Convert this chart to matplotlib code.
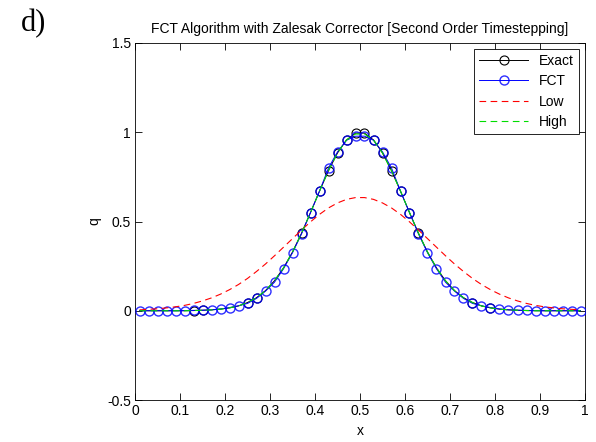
import numpy as np
import matplotlib
matplotlib.use("Agg")
import matplotlib.pyplot as plt

plt.rcParams['font.family'] = ['Liberation Sans', 'DejaVu Sans']

# cell centres, dx = 0.02
x = np.arange(0.01, 1.0, 0.02)

exact = [0.0, 0.0, 0.0, 0.0, 0.0, 0.0, 0.001, 0.003, 0.005, 0.009,
         0.016, 0.027, 0.046, 0.073, 0.113, 0.168, 0.240, 0.329, 0.434, 0.550,
         0.670, 0.785, 0.884, 0.957, 0.995, 0.995, 0.957, 0.884, 0.785, 0.670,
         0.550, 0.434, 0.329, 0.240, 0.168, 0.113, 0.073, 0.046, 0.027, 0.016,
         0.009, 0.005, 0.003, 0.001, 0.0, 0.0, 0.0, 0.0, 0.0, 0.0]
fct = [0.0, 0.0, 0.0, 0.0, 0.0, 0.001, 0.002, 0.003, 0.005, 0.010,
       0.018, 0.028, 0.041, 0.069, 0.110, 0.160, 0.235, 0.325, 0.430, 0.550,
       0.670, 0.800, 0.890, 0.955, 0.978, 0.978, 0.955, 0.890, 0.800, 0.670,
       0.550, 0.430, 0.325, 0.235, 0.160, 0.110, 0.069, 0.041, 0.028, 0.018,
       0.010, 0.005, 0.003, 0.002, 0.001, 0.0, 0.0, 0.0, 0.0, 0.0]
low = [0.005, 0.008, 0.011, 0.016, 0.022, 0.030, 0.041, 0.055, 0.072, 0.093,
       0.118, 0.147, 0.181, 0.220, 0.262, 0.308, 0.356, 0.404, 0.452, 0.498,
       0.540, 0.576, 0.604, 0.624, 0.634, 0.634, 0.624, 0.604, 0.576, 0.540,
       0.498, 0.452, 0.404, 0.356, 0.308, 0.262, 0.220, 0.181, 0.147, 0.118,
       0.093, 0.072, 0.055, 0.041, 0.030, 0.022, 0.016, 0.011, 0.008, 0.005]
high = [0.0, 0.0, 0.0, 0.0, 0.0, 0.0, 0.001, 0.003, 0.005, 0.009,
        0.016, 0.027, 0.046, 0.073, 0.113, 0.168, 0.240, 0.329, 0.434, 0.550,
        0.670, 0.785, 0.884, 0.957, 0.990, 0.990, 0.957, 0.884, 0.785, 0.670,
        0.550, 0.434, 0.329, 0.240, 0.168, 0.113, 0.073, 0.046, 0.027, 0.016,
        0.009, 0.005, 0.003, 0.001, 0.0, 0.0, 0.0, 0.0, 0.0, 0.0]
# indices where the black Exact circles show through
exact_marks = [6, 7, 12, 13, 18, 19, 20, 21, 22, 23, 24, 25, 26, 27, 28,
               29, 30, 31, 37, 39]

fig = plt.figure(figsize=(5.96, 4.42), dpi=100)
ax = fig.add_axes([135/596, 1 - 400/442, 450/596, 357/442])

ax.plot(x, exact, '-o', color='k', lw=0.7, ms=6.5, mfc='none', mew=0.8,
        markevery=exact_marks, label='Exact', zorder=2)
ax.plot(x, fct, '-o', color='b', lw=0.7, ms=6.5, mfc='none', mew=1.0,
        mec=(0, 0, 1, 0.82), label='FCT', zorder=3)
ax.plot(x, low, color='r', lw=0.8, ls=(0, (6, 4)), label='Low', zorder=4)
ax.plot(x, high, color='#00dd00', lw=0.8, ls=(0, (6, 4)), label='High', zorder=5)

ax.set_xlim(0, 1)
ax.set_ylim(-0.5, 1.5)
ax.set_xticks(np.arange(0, 1.01, 0.1))
ax.set_xticklabels(['0', '0.1', '0.2', '0.3', '0.4', '0.5', '0.6', '0.7', '0.8', '0.9', '1'])
ax.set_yticks([-0.5, 0, 0.5, 1, 1.5])
ax.set_yticklabels(['-0.5', '0', '0.5', '1', '1.5'])
ax.tick_params(direction='in', length=5, width=0.6, top=True, right=True,
               labelsize=10, pad=3)
for s in ax.spines.values():
    s.set_linewidth(0.6)

ax.set_xlabel('x', fontsize=10)
ax.set_ylabel('q', fontsize=10)
ax.set_title('FCT Algorithm with Zalesak Corrector [Second Order Timestepping]',
             fontsize=10, pad=7)

leg = ax.legend(loc='upper right', fontsize=10, fancybox=False, edgecolor='k',
                framealpha=1, borderaxespad=0.4, handlelength=3.5,
                labelspacing=0.45)
leg.get_frame().set_linewidth(0.6)

fig.text(0.035, 0.93, 'd)', family=['Liberation Serif', 'DejaVu Serif'], fontsize=22)

fig.savefig('out.png', dpi=100)
